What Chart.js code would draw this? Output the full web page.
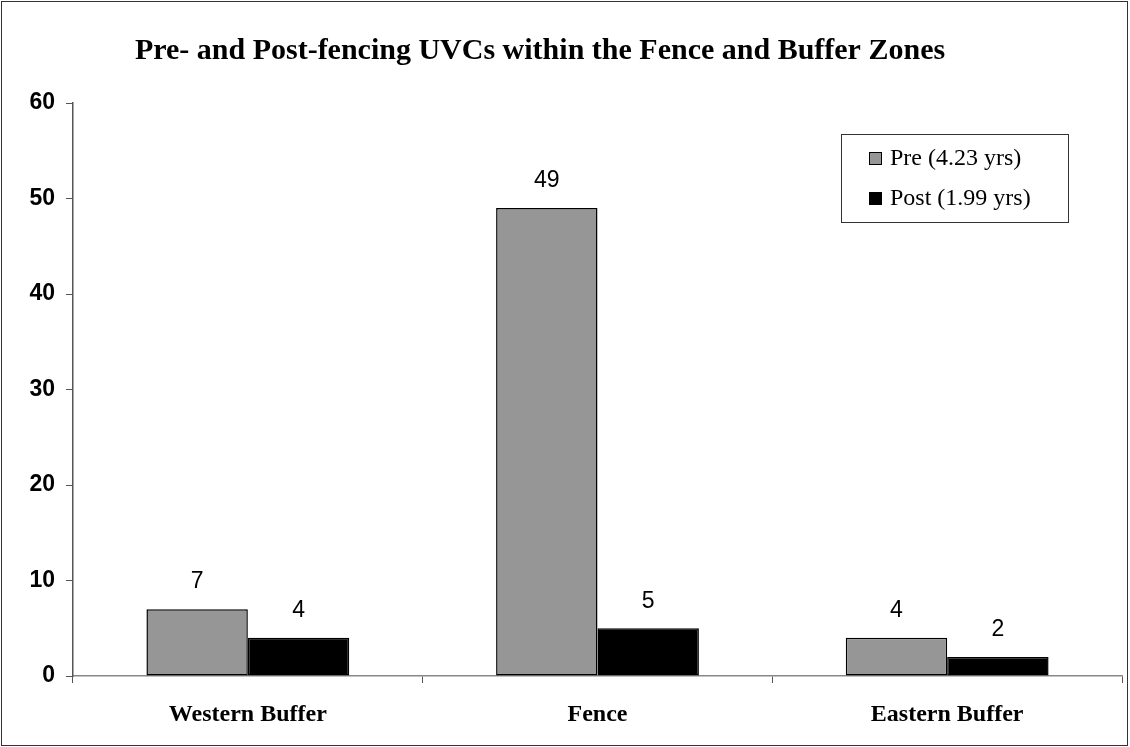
<!DOCTYPE html>
<html>
<head>
<meta charset="utf-8">
<script src="https://cdn.jsdelivr.net/npm/chart.js@4"></script>
<style>
  html, body { margin: 0; padding: 0; background: #fff; }
  #wrap { position: relative; width: 1130px; height: 747px; }
  #wrap::after { content: ''; position: absolute; left: 1px; top: 1px; right: 2px; bottom: 1px; border: 1px solid #333; pointer-events: none; }
</style>
</head>
<body>
<div id="wrap"><canvas id="chart" width="1130" height="747"></canvas></div>
<script>
// zones along the fence line
const categories = ['Western Buffer', 'Fence', 'Eastern Buffer'];
const preValues = [7, 49, 4];
const postValues = [4, 5, 2];
const seriesLabels = ['Pre (4.23 yrs)', 'Post (1.99 yrs)'];
const yTicks = [0, 10, 20, 30, 40, 50, 60];
const chartTitle = 'Pre- and Post-fencing UVCs within the Fence and Buffer Zones';

// title, value labels and the boxed legend are drawn by hand
const extras = {
  id: 'extras',
  afterDraw(chart) {
    const ctx = chart.ctx;
    ctx.save();
    ctx.fillStyle = '#000';
    ctx.textAlign = 'center';
    ctx.textBaseline = 'alphabetic';
    ctx.font = 'bold 30px "Liberation Serif", "Times New Roman", serif';
    ctx.fillText(chartTitle, 540, 59);

    ctx.font = '23px "Liberation Sans", Arial, sans-serif';
    ctx.textBaseline = 'middle';
    chart.data.datasets.forEach((ds, i) => {
      chart.getDatasetMeta(i).data.forEach((bar, j) => {
        ctx.fillText(String(ds.data[j]), bar.x, bar.y - 27);
      });
    });

    // legend box
    const bx = 841, by = 134, bw = 227, bh = 88;
    ctx.strokeStyle = '#333';
    ctx.lineWidth = 1;
    ctx.strokeRect(bx + 0.5, by + 0.5, bw, bh);
    ctx.font = '24px "Liberation Serif", "Times New Roman", serif';
    ctx.textAlign = 'left';
    chart.data.datasets.forEach((ds, i) => {
      const cy = by + 24 + i * 40;
      ctx.fillStyle = ds.backgroundColor;
      ctx.fillRect(bx + 28, cy - 6, 13, 13);
      ctx.strokeStyle = '#000';
      ctx.strokeRect(bx + 28.5, cy - 5.5, 12, 12);
      ctx.fillStyle = '#000';
      ctx.fillText(ds.label, bx + 49, cy + 1);
    });
    ctx.restore();
  }
};

new Chart(document.getElementById('chart'), {
  type: 'bar',
  data: {
    labels: categories,
    datasets: [
      { label: seriesLabels[0], data: preValues, backgroundColor: '#969696', borderColor: '#000', borderWidth: 1.5, borderSkipped: false },
      { label: seriesLabels[1], data: postValues, backgroundColor: '#000000', borderColor: '#000', borderWidth: 1.5, borderSkipped: false }
    ]
  },
  options: {
    responsive: false,
    animation: false,
    layout: { padding: { left: 0, right: 8, top: 103, bottom: 0 } },
    datasets: { bar: { categoryPercentage: 0.58, barPercentage: 1 } },
    plugins: {
      legend: { display: false },
      title: { display: false },
      tooltip: { enabled: false }
    },
    scales: {
      x: {
        grid: { offset: true, drawOnChartArea: false, tickLength: 7, color: '#555' },
        border: { color: '#888', width: 1.5 },
        ticks: {
          color: '#000', padding: 17,
          font: { family: '"Liberation Serif", "Times New Roman", serif', size: 24, weight: 'bold' }
        },
        afterFit: (s) => { s.height = 71; }
      },
      y: {
        min: 0, max: 60,
        grid: { drawOnChartArea: false, tickLength: 7, color: '#555' },
        border: { color: '#555', width: 1.5 },
        afterBuildTicks: (s) => { s.ticks = yTicks.map(v => ({ value: v })); },
        ticks: {
          color: '#000', padding: 11,
          font: { family: '"Liberation Sans", Arial, sans-serif', size: 23, weight: 'bold' }
        },
        afterFit: (s) => { s.width = 73; }
      }
    }
  },
  plugins: [extras]
});
</script>
</body>
</html>
